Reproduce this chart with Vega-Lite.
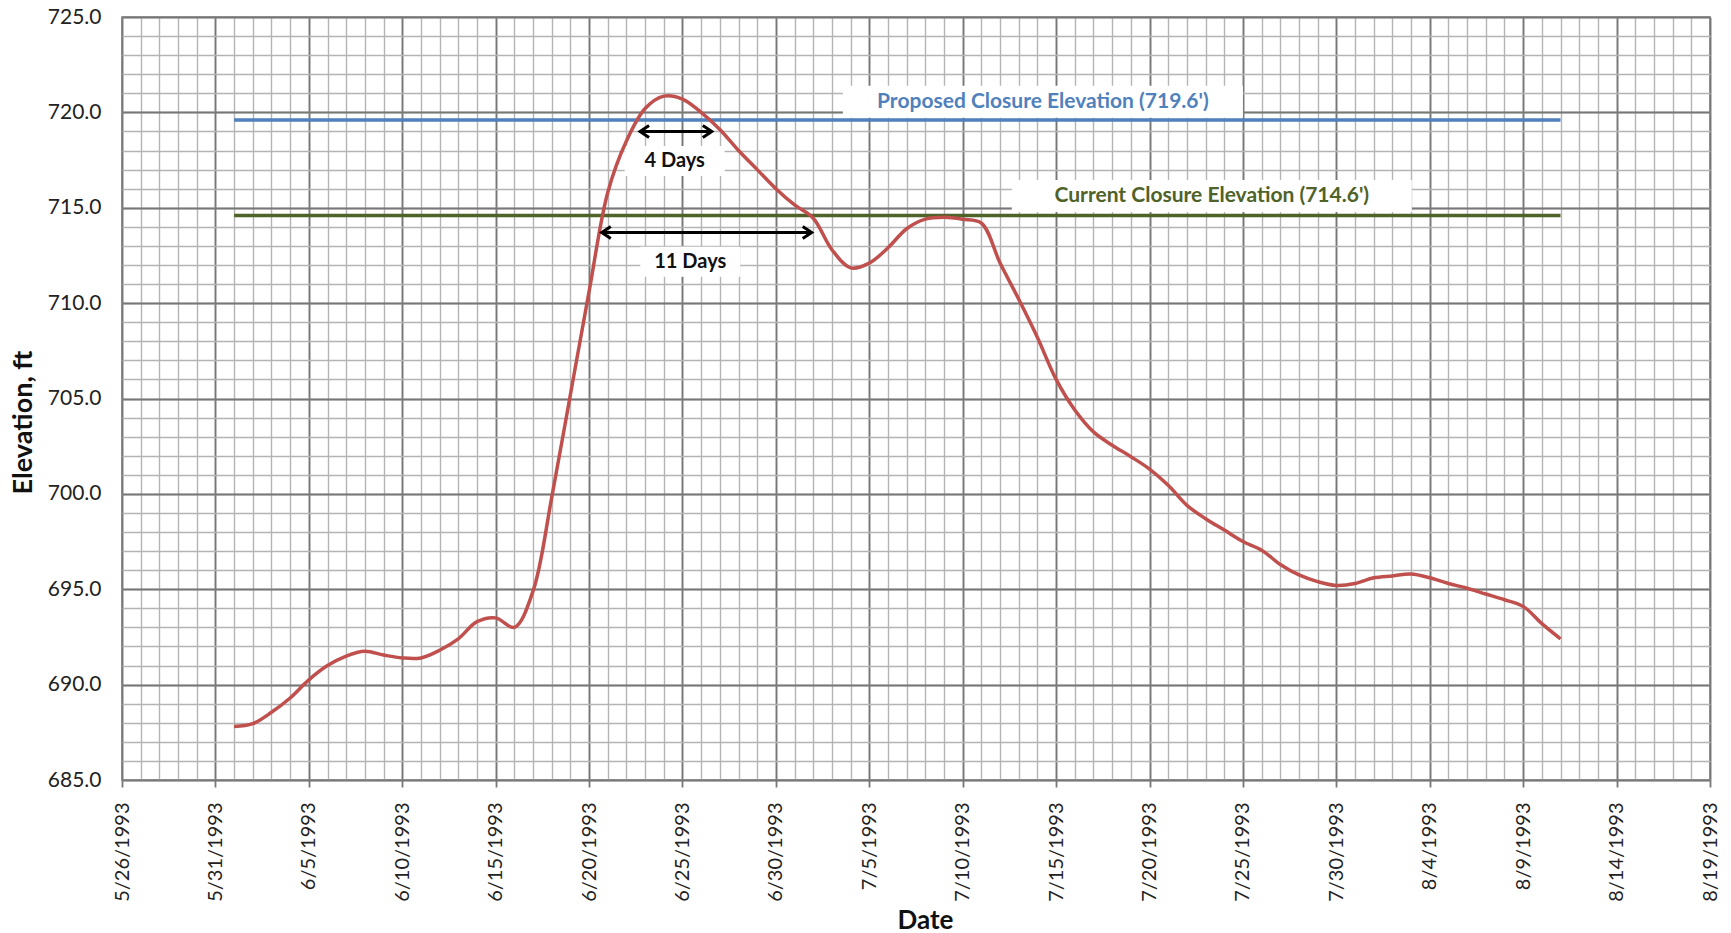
{
  "$schema": "https://vega.github.io/schema/vega-lite/v6.json",
  "width": 1588,
  "height": 763,
  "autosize": "none",
  "padding": {"left": 122, "top": 17, "right": 21, "bottom": 153},
  "background": "white",
  "config": {
    "view": {"stroke": "#7a7a7a", "strokeWidth": 1.6},
    "font": "Lato"
  },
  "datasets": {
    "elevation": [
      {"date": "1993-06-01", "elev": 687.8},
      {"date": "1993-06-02", "elev": 687.95},
      {"date": "1993-06-03", "elev": 688.55},
      {"date": "1993-06-04", "elev": 689.3},
      {"date": "1993-06-05", "elev": 690.25},
      {"date": "1993-06-06", "elev": 691.0},
      {"date": "1993-06-07", "elev": 691.5},
      {"date": "1993-06-08", "elev": 691.75},
      {"date": "1993-06-09", "elev": 691.55},
      {"date": "1993-06-10", "elev": 691.4},
      {"date": "1993-06-11", "elev": 691.4},
      {"date": "1993-06-12", "elev": 691.8},
      {"date": "1993-06-13", "elev": 692.4},
      {"date": "1993-06-14", "elev": 693.3},
      {"date": "1993-06-15", "elev": 693.5},
      {"date": "1993-06-16", "elev": 693.0},
      {"date": "1993-06-17", "elev": 694.9},
      {"date": "1993-06-18", "elev": 699.8},
      {"date": "1993-06-19", "elev": 705.2},
      {"date": "1993-06-20", "elev": 710.6},
      {"date": "1993-06-21", "elev": 715.8},
      {"date": "1993-06-22", "elev": 718.5},
      {"date": "1993-06-23", "elev": 720.2},
      {"date": "1993-06-24", "elev": 720.85},
      {"date": "1993-06-25", "elev": 720.7},
      {"date": "1993-06-26", "elev": 720.0},
      {"date": "1993-06-27", "elev": 719.1},
      {"date": "1993-06-28", "elev": 718.0},
      {"date": "1993-06-29", "elev": 717.0},
      {"date": "1993-06-30", "elev": 716.0},
      {"date": "1993-07-01", "elev": 715.15},
      {"date": "1993-07-02", "elev": 714.45},
      {"date": "1993-07-03", "elev": 712.8},
      {"date": "1993-07-04", "elev": 711.85},
      {"date": "1993-07-05", "elev": 712.1},
      {"date": "1993-07-06", "elev": 712.9},
      {"date": "1993-07-07", "elev": 713.9},
      {"date": "1993-07-08", "elev": 714.4},
      {"date": "1993-07-09", "elev": 714.5},
      {"date": "1993-07-10", "elev": 714.4},
      {"date": "1993-07-11", "elev": 714.2},
      {"date": "1993-07-12", "elev": 712.1},
      {"date": "1993-07-13", "elev": 710.2},
      {"date": "1993-07-14", "elev": 708.2},
      {"date": "1993-07-15", "elev": 706.0},
      {"date": "1993-07-16", "elev": 704.4},
      {"date": "1993-07-17", "elev": 703.25},
      {"date": "1993-07-18", "elev": 702.55},
      {"date": "1993-07-19", "elev": 701.95},
      {"date": "1993-07-20", "elev": 701.3},
      {"date": "1993-07-21", "elev": 700.45},
      {"date": "1993-07-22", "elev": 699.4},
      {"date": "1993-07-23", "elev": 698.7},
      {"date": "1993-07-24", "elev": 698.1},
      {"date": "1993-07-25", "elev": 697.5},
      {"date": "1993-07-26", "elev": 697.05},
      {"date": "1993-07-27", "elev": 696.3},
      {"date": "1993-07-28", "elev": 695.75},
      {"date": "1993-07-29", "elev": 695.4},
      {"date": "1993-07-30", "elev": 695.2},
      {"date": "1993-07-31", "elev": 695.3},
      {"date": "1993-08-01", "elev": 695.6},
      {"date": "1993-08-02", "elev": 695.7},
      {"date": "1993-08-03", "elev": 695.8},
      {"date": "1993-08-04", "elev": 695.6},
      {"date": "1993-08-05", "elev": 695.3},
      {"date": "1993-08-06", "elev": 695.05},
      {"date": "1993-08-07", "elev": 694.75},
      {"date": "1993-08-08", "elev": 694.45},
      {"date": "1993-08-09", "elev": 694.1},
      {"date": "1993-08-10", "elev": 693.2},
      {"date": "1993-08-11", "elev": 692.4}
    ],
    "closure": [
      {"name": "Proposed", "elev": 719.6, "start": "1993-06-01", "end": "1993-08-11"},
      {"name": "Current", "elev": 714.6, "start": "1993-06-01", "end": "1993-08-11"}
    ],
    "closureLabels": [
      {"name": "Proposed", "text": "Proposed Closure Elevation (719.6')", "date": "1993-07-14T07:00:00Z", "elev": 720.56},
      {"name": "Current", "text": "Current Closure Elevation (714.6')", "date": "1993-07-23T08:00:00Z", "elev": 715.61}
    ],
    "spans": [
      {"label": "4 Days", "start": "1993-06-22T17:30:00Z", "end": "1993-06-26T13:40:00Z", "elev": 719.0, "tdate": "1993-06-24T14:00:00Z", "telev": 717.45},
      {"label": "11 Days", "start": "1993-06-20T16:20:00Z", "end": "1993-07-01T22:00:00Z", "elev": 713.7, "tdate": "1993-06-25T10:00:00Z", "telev": 712.17}
    ]
  },
  "resolve": {"axis": {"x": "independent", "y": "independent"}},
  "layer": [
    {
      "data": {"name": "closure"},
      "mark": {"type": "rule", "strokeWidth": 3.5},
      "encoding": {
        "x": {"field": "start", "type": "temporal",
          "scale": {"type": "utc", "nice": false, "domain": [{"year": 1993, "month": 5, "date": 26, "utc": true}, {"year": 1993, "month": 8, "date": 19, "utc": true}]},
          "axis": {"orient": "bottom", "grid": true, "gridColor": "#b4b4b4", "gridWidth": 1.4, "labels": false, "ticks": false, "domain": false, "title": null, "tickCount": {"interval": "day", "step": 1}}},
        "x2": {"field": "end"},
        "y": {"field": "elev", "type": "quantitative",
          "scale": {"domain": [685, 725], "nice": false, "zero": false},
          "axis": {"orient": "left", "grid": true, "gridColor": "#b4b4b4", "gridWidth": 1.4, "labels": false, "ticks": false, "domain": false, "title": null, "tickCount": 40}},
        "color": {"field": "name", "type": "nominal", "legend": null,
          "scale": {"domain": ["Proposed", "Current"], "range": ["#4F81BD", "#4F6228"]}}
      }
    },
    {
      "data": {"name": "closureLabels"},
      "mark": {"type": "point", "shape": "M-1,-0.08H1V0.08H-1Z", "size": 160000, "filled": true, "color": "white", "opacity": 1, "strokeWidth": 0},
      "encoding": {
        "x": {"field": "date", "type": "temporal", "axis": null,
          "scale": {"type": "utc", "nice": false, "domain": [{"year": 1993, "month": 5, "date": 26, "utc": true}, {"year": 1993, "month": 8, "date": 19, "utc": true}]}},
        "y": {"field": "elev", "type": "quantitative", "axis": null,
          "scale": {"domain": [685, 725], "nice": false, "zero": false}}
      }
    },
    {
      "data": {"name": "spans"},
      "mark": {"type": "point", "shape": "M-1,-0.3H1V0.3H-1Z", "size": 10000, "filled": true, "color": "white", "opacity": 1, "strokeWidth": 0},
      "encoding": {
        "x": {"field": "tdate", "type": "temporal", "axis": null,
          "scale": {"type": "utc", "nice": false, "domain": [{"year": 1993, "month": 5, "date": 26, "utc": true}, {"year": 1993, "month": 8, "date": 19, "utc": true}]}},
        "y": {"field": "telev", "type": "quantitative", "axis": null,
          "scale": {"domain": [685, 725], "nice": false, "zero": false}}
      }
    },
    {
      "data": {"name": "elevation"},
      "mark": {"type": "line", "color": "#C0504D", "strokeWidth": 3.5, "interpolate": "catmull-rom"},
      "encoding": {
        "x": {"field": "date", "type": "temporal",
          "scale": {"type": "utc", "nice": false, "domain": [{"year": 1993, "month": 5, "date": 26, "utc": true}, {"year": 1993, "month": 8, "date": 19, "utc": true}]},
          "axis": {"orient": "bottom", "grid": true, "gridColor": "#777777", "gridWidth": 1.8, "domain": false,
            "values": [
              {"year": 1993, "month": 5, "date": 26, "utc": true},
              {"year": 1993, "month": 5, "date": 31, "utc": true},
              {"year": 1993, "month": 6, "date": 5, "utc": true},
              {"year": 1993, "month": 6, "date": 10, "utc": true},
              {"year": 1993, "month": 6, "date": 15, "utc": true},
              {"year": 1993, "month": 6, "date": 20, "utc": true},
              {"year": 1993, "month": 6, "date": 25, "utc": true},
              {"year": 1993, "month": 6, "date": 30, "utc": true},
              {"year": 1993, "month": 7, "date": 5, "utc": true},
              {"year": 1993, "month": 7, "date": 10, "utc": true},
              {"year": 1993, "month": 7, "date": 15, "utc": true},
              {"year": 1993, "month": 7, "date": 20, "utc": true},
              {"year": 1993, "month": 7, "date": 25, "utc": true},
              {"year": 1993, "month": 7, "date": 30, "utc": true},
              {"year": 1993, "month": 8, "date": 4, "utc": true},
              {"year": 1993, "month": 8, "date": 9, "utc": true},
              {"year": 1993, "month": 8, "date": 14, "utc": true},
              {"year": 1993, "month": 8, "date": 19, "utc": true}
            ],
            "labelExpr": "utcFormat(datum.value, '%-m/%-d/%Y')",
            "ticks": true, "tickSize": 7, "tickColor": "#777777", "tickWidth": 1.8,
            "labelAngle": -90, "labelFontSize": 20, "labelColor": "#222222", "labelPadding": 15,
            "labelFlush": false, "labelOverlap": false, "labelBound": false,
            "title": "Date", "titleFontSize": 26, "titleFontWeight": "bold", "titleColor": "#111111",
            "titleX": 803, "titleY": 140, "titleAlign": "center", "titleBaseline": "middle"}},
        "y": {"field": "elev", "type": "quantitative",
          "scale": {"domain": [685, 725], "nice": false, "zero": false},
          "axis": {"orient": "left", "grid": true, "gridColor": "#777777", "gridWidth": 1.8, "domain": false, "ticks": false,
            "values": [685, 690, 695, 700, 705, 710, 715, 720, 725], "format": ".1f",
            "labelFontSize": 21, "labelColor": "#222222", "labelPadding": 21,
            "title": "Elevation, ft", "titleFontSize": 27, "titleFontWeight": "bold", "titleColor": "#111111",
            "titleX": -99, "titleY": 405, "titleAngle": -90, "titleAlign": "center", "titleBaseline": "middle"}}
      }
    },
    {
      "data": {"name": "closureLabels"},
      "mark": {"type": "text", "fontSize": 21, "fontWeight": "bold", "align": "center", "baseline": "middle"},
      "encoding": {
        "x": {"field": "date", "type": "temporal", "axis": null,
          "scale": {"type": "utc", "nice": false, "domain": [{"year": 1993, "month": 5, "date": 26, "utc": true}, {"year": 1993, "month": 8, "date": 19, "utc": true}]}},
        "y": {"field": "elev", "type": "quantitative", "axis": null,
          "scale": {"domain": [685, 725], "nice": false, "zero": false}},
        "text": {"field": "text"},
        "color": {"field": "name", "type": "nominal", "legend": null,
          "scale": {"domain": ["Proposed", "Current"], "range": ["#4F81BD", "#4F6228"]}}
      }
    },
    {
      "data": {"name": "spans"},
      "mark": {"type": "rule", "color": "black", "strokeWidth": 3},
      "encoding": {
        "x": {"field": "start", "type": "temporal", "axis": null,
          "scale": {"type": "utc", "nice": false, "domain": [{"year": 1993, "month": 5, "date": 26, "utc": true}, {"year": 1993, "month": 8, "date": 19, "utc": true}]}},
        "x2": {"field": "end"},
        "y": {"field": "elev", "type": "quantitative", "axis": null,
          "scale": {"domain": [685, 725], "nice": false, "zero": false}}
      }
    },
    {
      "data": {"name": "spans"},
      "mark": {"type": "point", "shape": "M1.5,-1L0,0L1.5,1", "size": 144, "filled": false, "color": "black", "opacity": 1, "strokeWidth": 3},
      "encoding": {
        "x": {"field": "start", "type": "temporal", "axis": null,
          "scale": {"type": "utc", "nice": false, "domain": [{"year": 1993, "month": 5, "date": 26, "utc": true}, {"year": 1993, "month": 8, "date": 19, "utc": true}]}},
        "y": {"field": "elev", "type": "quantitative", "axis": null,
          "scale": {"domain": [685, 725], "nice": false, "zero": false}}
      }
    },
    {
      "data": {"name": "spans"},
      "mark": {"type": "point", "shape": "M-1.5,-1L0,0L-1.5,1", "size": 144, "filled": false, "color": "black", "opacity": 1, "strokeWidth": 3},
      "encoding": {
        "x": {"field": "end", "type": "temporal", "axis": null,
          "scale": {"type": "utc", "nice": false, "domain": [{"year": 1993, "month": 5, "date": 26, "utc": true}, {"year": 1993, "month": 8, "date": 19, "utc": true}]}},
        "y": {"field": "elev", "type": "quantitative", "axis": null,
          "scale": {"domain": [685, 725], "nice": false, "zero": false}}
      }
    },
    {
      "data": {"name": "spans"},
      "mark": {"type": "text", "fontSize": 20, "fontWeight": "bold", "align": "center", "baseline": "middle", "color": "#111111"},
      "encoding": {
        "x": {"field": "tdate", "type": "temporal", "axis": null,
          "scale": {"type": "utc", "nice": false, "domain": [{"year": 1993, "month": 5, "date": 26, "utc": true}, {"year": 1993, "month": 8, "date": 19, "utc": true}]}},
        "y": {"field": "telev", "type": "quantitative", "axis": null,
          "scale": {"domain": [685, 725], "nice": false, "zero": false}},
        "text": {"field": "label"}
      }
    }
  ]
}
